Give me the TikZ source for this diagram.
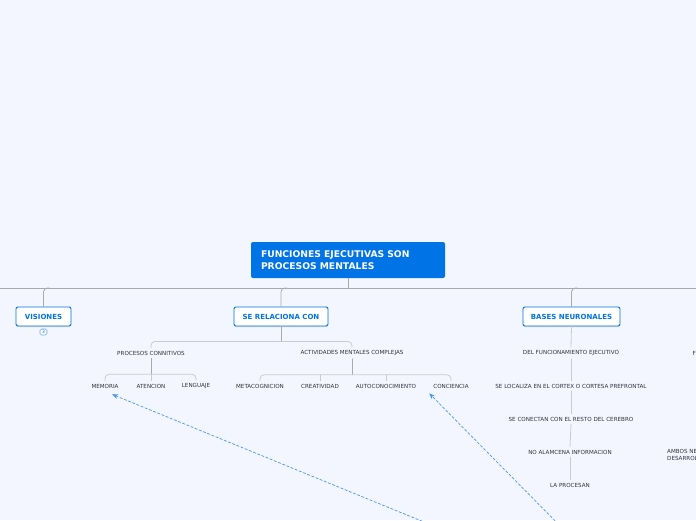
\documentclass[tikz,border=0pt]{standalone}
\usepackage{fontspec}
\setmainfont{DejaVu Sans}
\usetikzlibrary{positioning,arrows.meta,shadows}
\definecolor{bgblue}{RGB}{243,246,254}
\definecolor{mapblue}{RGB}{0,115,230}
\definecolor{busgray}{RGB}{168,170,174}
\definecolor{twiggray}{RGB}{200,203,212}
\definecolor{leaftext}{RGB}{50,52,62}
\definecolor{linkblue}{RGB}{70,150,240}
\begin{document}
\begin{tikzpicture}[x=1pt,y=-1pt,>=Stealth, line join=round, line cap=round,
	root/.style={fill=mapblue, rounded corners=2pt, text=white, font=\fontsize{9.2}{11.5}\selectfont\bfseries,
		align=left, text width=174pt, minimum width=194pt, minimum height=36pt, inner sep=0pt},
	topic/.style={draw=mapblue, fill=white, rounded corners=2pt, line width=0.9pt, text=mapblue,
		font=\fontsize{7}{8}\selectfont\bfseries, minimum height=19pt, inner sep=2pt,
		drop shadow={shadow xshift=0pt, shadow yshift=-1pt, opacity=0.25}},
	badge/.style={draw=mapblue!60, fill=white, rounded corners=1.5pt, line width=0.6pt, text=mapblue,
		font=\fontsize{4.5}{5}\selectfont, minimum width=7pt, minimum height=6pt, inner sep=0.5pt},
	leaf/.style={text=leaftext, font=\fontsize{5.6}{6.8}\selectfont, inner sep=3pt},
	branch/.style={draw=busgray, line width=0.8pt, rounded corners=4pt},
	twig/.style={draw=twiggray, line width=0.8pt, rounded corners=4pt},
	link/.style={->, linkblue, line width=0.7pt, dash pattern=on 2.5pt off 2pt}]
	\useasboundingbox (0,0) rectangle (696,520);
	\fill[bgblue] (0,0) rectangle (696,520);
	\clip (0,0) rectangle (696,520);
	% main topics
	\node[root] (root) at (348,260) {FUNCIONES EJECUTIVAS SON\\PROCESOS MENTALES};
	\coordinate (bus) at (0,288);
	\node[topic, minimum width=55pt] (vis) at (43.5,316.5) {VISIONES};
	\node[badge] (visn) at (43.5,332) {3};
	\node[topic, minimum width=94pt] (rel) at (281,316.5) {SE RELACIONA CON};
	\node[topic, minimum width=97pt] (bn) at (571.5,316.5) {BASES NEURONALES};
	% leaves
	\node[leaf] (pc) at (151,353) {PROCESOS CONNITIVOS};
	\node[leaf] (amc) at (352,353) {ACTIVIDADES MENTALES COMPLEJAS};
	\node[leaf] (mem) at (105,386) {MEMORIA};
	\node[leaf] (ate) at (151,386) {ATENCION};
	\node[leaf] (len) at (196,386) {LENGUAJE};
	\node[leaf] (met) at (260,386) {METACOGNICION};
	\node[leaf] (cre) at (320,386) {CREATIVIDAD};
	\node[leaf] (aut) at (386,386) {AUTOCONOCIMIENTO};
	\node[leaf] (con) at (451,386) {CONCIENCIA};
	\node[leaf] (dfe) at (571,353) {DEL FUNCIONAMIENTO EJECUTIVO};
	\node[leaf] (loc) at (571,386) {SE LOCALIZA EN EL CORTEX O CORTESA PREFRONTAL};
	\node[leaf] (cnx) at (571,419) {SE CONECTAN CON EL RESTO DEL CEREBRO};
	\node[leaf] (alm) at (570,452) {NO ALAMCENA INFORMACION};
	\node[leaf] (prc) at (570,485) {LA PROCESAN};
	% cut off at the right edge
	\node[leaf, anchor=west, inner sep=0pt] (fx) at (692.5,353) {F};
	\node[leaf, anchor=north west, inner sep=0pt, align=left] (amb) at (667,449) {AMBOS NE\\DESARROL};
	% first level
	\draw[branch] (root.south) -- (root.south |- bus);
	\draw[busgray, line width=0.8pt] (bus) -- (696,288);
	\draw[branch] ([xshift=6pt]vis.north |- bus) -- (vis.north |- bus) -- (vis.north);
	\draw[branch] ([xshift=6pt]rel.north |- bus) -- (rel.north |- bus) -- (rel.north);
	\draw[branch] ([xshift=6pt]bn.north |- bus) -- (bn.north |- bus) -- (bn.north);
	% se relaciona con
	\draw[branch] (rel.south) -- ++(0,15) coordinate (relbus);
	\draw[twig] (pc.north) -- (pc.north |- relbus) -- (amc.north |- relbus) -- (amc.north);
	\draw[branch] (pc.south) -- ++(0,16) coordinate (pcbus);
	\draw[twig] (mem.north) -- (mem.north |- pcbus) -- (len.north |- pcbus) -- (len.north);
	\draw[twig] (ate.north) -- (ate.north |- pcbus);
	\draw[branch] (amc.south) -- ++(0,16) coordinate (amcbus);
	\draw[twig] (met.north) -- (met.north |- amcbus) -- (con.north |- amcbus) -- (con.north);
	\draw[twig] (cre.north) -- (cre.north |- amcbus);
	\draw[twig] (aut.north) -- (aut.north |- amcbus);
	% bases neuronales
	\draw[twig] (bn.south) -- (dfe.north);
	\draw[twig] (dfe.south) -- (loc.north);
	\draw[twig] (loc.south) -- (cnx.north);
	\draw[twig] (cnx.south) -- (alm.north);
	\draw[twig] (alm.south) -- (prc.north);
	% links from below
	\coordinate (srcA) at (468,540);
	\coordinate (srcB) at (574,540);
	\draw[link] (srcA) -- ([xshift=7pt,yshift=-3pt]mem.south);
	\draw[link] (srcB) -- ([xshift=-1pt,yshift=-2pt]con.south west);
\end{tikzpicture}
\end{document}
